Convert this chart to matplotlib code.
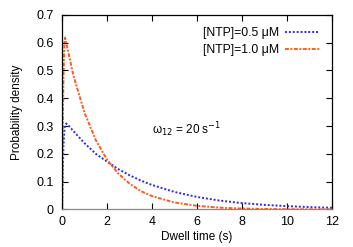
import matplotlib.pyplot as plt

plt.rcParams['font.family'] = ['Liberation Sans', 'DejaVu Sans']

# dwell time (s)
t = [0, 0.03, 0.06, 0.1, 0.13, 0.18, 0.25, 0.5, 1, 1.5, 2, 2.5, 3, 3.5,
     4, 5, 6, 7, 8, 9, 10, 11, 12]
# probability density, [NTP]=0.5 uM
p_05 = [0, 0.14, 0.23, 0.285, 0.302, 0.309, 0.305, 0.282, 0.238, 0.200,
        0.172, 0.145, 0.123, 0.104, 0.088, 0.063, 0.045, 0.032, 0.023,
        0.0165, 0.012, 0.0085, 0.006]
# probability density, [NTP]=1.0 uM
p_10 = [0, 0.30, 0.48, 0.600, 0.618, 0.600, 0.575, 0.482, 0.347, 0.249,
        0.179, 0.129, 0.093, 0.066, 0.048, 0.025, 0.013, 0.0066, 0.0034,
        0.0018, 0.0009, 0.0005, 0.0002]

fig = plt.figure(figsize=(3.53, 2.47), dpi=100)
ax = fig.add_axes([0.176, 0.152, 0.764, 0.788])

ax.plot(t, p_05, color='#2a2af0', lw=1.4, ls=(0, (1, 1)),
        label='[NTP]=0.5 μM')
ax.plot(t, p_10, color='#ff5a1e', lw=1.4, ls=(0, (2, 0.8, 1, 0.8)),
        label='[NTP]=1.0 μM')

ax.set_xlim(0, 12)
ax.set_ylim(0, 0.7)
ax.set_xticks(range(0, 13, 2))
ax.set_yticks([0, 0.1, 0.2, 0.3, 0.4, 0.5, 0.6, 0.7])
ax.set_yticklabels(['0', '0.1', '0.2', '0.3', '0.4', '0.5', '0.6', '0.7'])
ax.tick_params(direction='in', top=True, right=True, length=4,
               labelsize=9)
ax.tick_params(axis='y', pad=6)
ax.tick_params(axis='x', pad=5)
for s in ax.spines.values():
    s.set_linewidth(0.9)
ax.spines['bottom'].set_color('#888888')

ax.set_xlabel('Dwell time (s)', fontsize=8.5, labelpad=2)
ax.set_ylabel('Probability density', fontsize=8.5, labelpad=10)

ax.text(4.0, 0.287, 'ω$_{12}$ = 20 s$^{-1}$', fontsize=8.5, va='center')

ax.legend(loc='upper right', frameon=False, markerfirst=False, fontsize=8.8,
          handlelength=2.8, handletextpad=0.5, borderaxespad=0.6,
          labelspacing=0.4)

fig.savefig('out.png', dpi=100)
